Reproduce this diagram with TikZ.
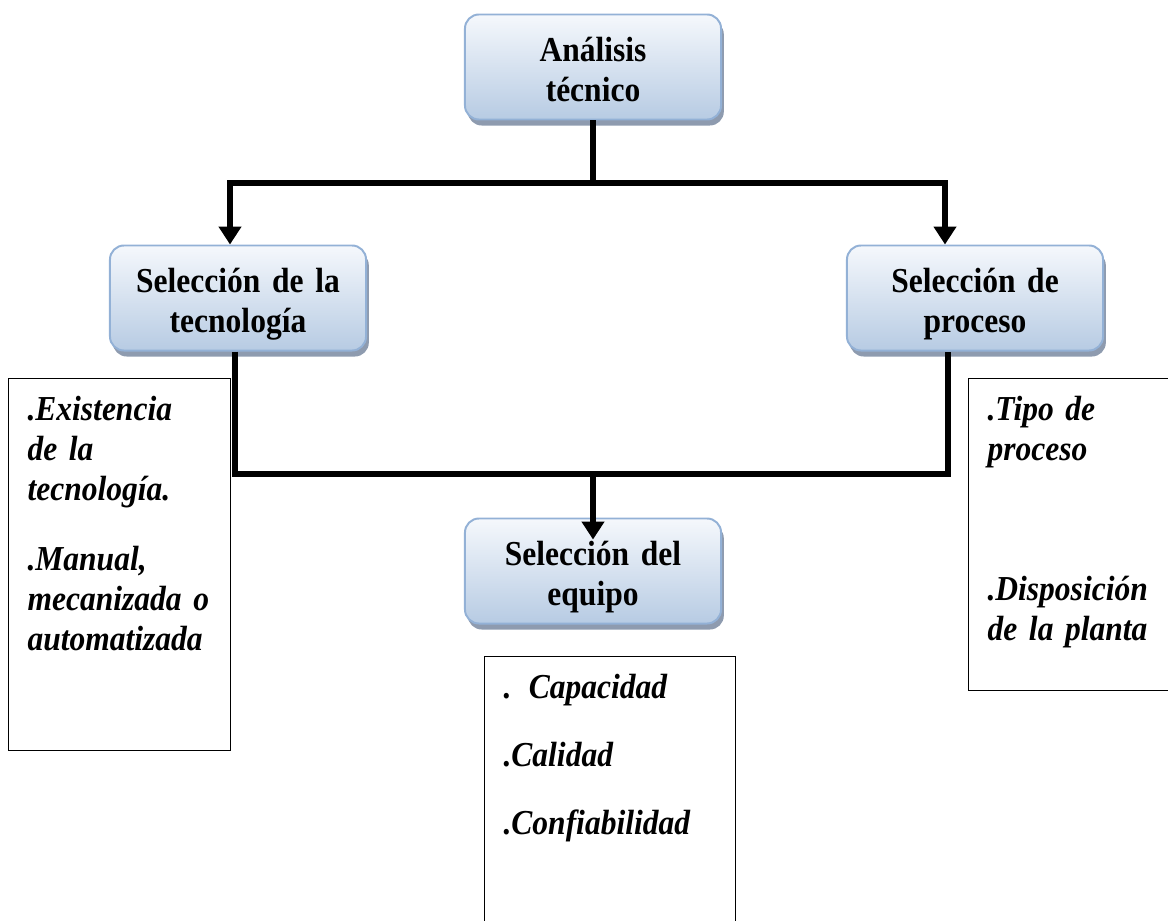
\documentclass[tikz,border=0pt]{standalone}
\usepackage{fontspec}
\setmainfont{Liberation Serif}[FakeStretch=0.9]
\usetikzlibrary{arrows.meta,calc,shadows}

\definecolor{boxtop}{HTML}{F5F8FC}
\definecolor{boxbot}{HTML}{B7CBE3}
\definecolor{boxline}{HTML}{93B1D6}
\definecolor{boxshade}{HTML}{8E9BAF}

\tikzset{
  etapa/.style={rectangle, rounded corners=0.35cm, draw=boxline, line width=1.4pt,
    top color=boxtop, bottom color=boxbot,
    drop shadow={shadow xshift=0.07cm, shadow yshift=-0.15cm, fill=boxshade, opacity=1},
    minimum width=6.4cm, minimum height=2.625cm, inner sep=0pt,
    text width=6.2cm, align=center, text height=0.55cm, text depth=0.825cm,
    font=\fontsize{24.9}{28.45}\selectfont\bfseries},
  nota/.style={rectangle, draw, line width=0.8pt, fill=white, anchor=north west,
    align=left, inner xsep=0.475cm, inner ysep=0.5cm, text height=0.55cm,
    font=\fontsize{24.9}{28.45}\selectfont\bfseries\itshape},
  linea/.style={line width=0.17cm},
  flecha/.style={linea, -{Triangle[width=0.55cm,length=0.45cm]}}
}

\begin{document}
\begin{tikzpicture}[x=0.025cm, y=-0.025cm]
    \useasboundingbox (0,0) rectangle (1168,920);
    \clip (0,0) rectangle (1168,920);

    % etapas
    \node[etapa] (analisis) at (593,67) {Análisis\\ técnico};
    \node[etapa] (tecno) at (238,298) {Selección de la\\ tecnología};
    \node[etapa] (proceso) at (975,298) {Selección de\\ proceso};
    \node[etapa] (equipo) at (593,571) {Selección del\\ equipo};

    % notas
    \node[nota, text width=4.6cm, text depth=7.75cm] (ntecno) at (8,378)
        {.Existencia\\ de la\\ tecnología.\\[0.75cm] .Manual,\\ mecanizada o\\ automatizada};
    \node[nota, text width=4.8cm, text depth=6.25cm] (nproceso) at (968,378)
        {.Tipo de\\ proceso\\[2.5cm] .Disposición\\ de la planta};
    \node[nota, text width=5.325cm, text depth=5.3cm] (nequipo) at (484,656)
        {. Capacidad\\[0.7cm] .Calidad\\[0.7cm] .Confiabilidad};

    % conectores
    \coordinate (jsup) at (593,183);
    \coordinate (jinf) at (593,474);
    \draw[linea] (analisis) -- (jsup);
    \draw[flecha] (jsup) -| ([xshift=-0.2cm]tecno.north);
    \draw[flecha] (jsup) -| ([xshift=-0.75cm]proceso.north);
    \draw[linea] ([xshift=-0.075cm]tecno.south) |- (jinf) -| ([xshift=-0.675cm]proceso.south);
    \draw[flecha] (jinf) -- ([yshift=-0.55cm]equipo.north);
\end{tikzpicture}
\end{document}
